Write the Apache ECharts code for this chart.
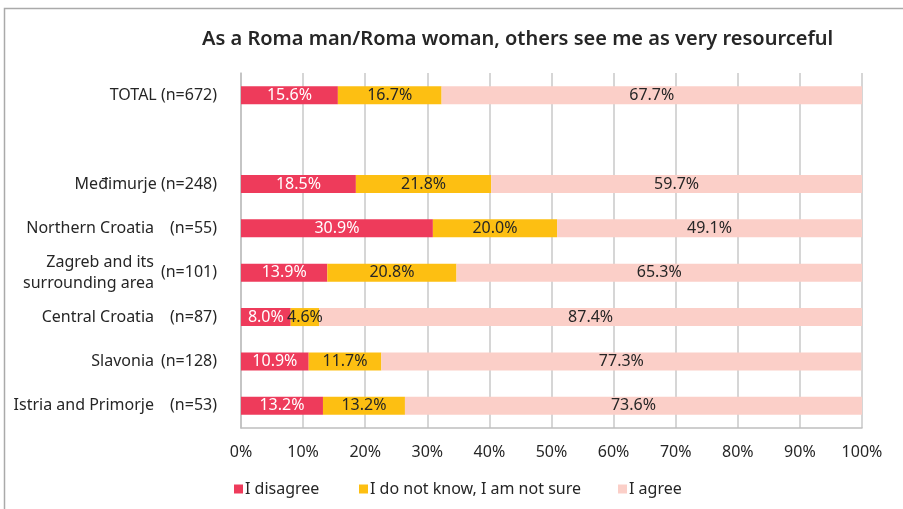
<!DOCTYPE html>
<html>
<head>
<meta charset="utf-8">
<script src="https://cdn.jsdelivr.net/npm/echarts@6/dist/echarts.min.js"></script>
<style>
  html, body { margin: 0; padding: 0; background: #fff; }
  #main { width: 903px; height: 509px; }
</style>
</head>
<body>
<div id="main"></div>
<script>
var chartDom = document.getElementById('main');
var myChart = echarts.init(chartDom);
var option;

// rows, top to bottom (the empty one is the gap under TOTAL)
var regionNames = ['', '', '', 'Northern Croatia', 'Zagreb and its\nsurrounding area', 'Central Croatia', 'Slavonia', 'Istria and Primorje'];
var sampleLabels = ['TOTAL (n=672)', '', 'Međimurje (n=248)', '(n=55)', '(n=101)', '(n=87)', '(n=128)', '(n=53)'];

var disagree = [15.6, null, 18.5, 30.9, 13.9, 8.0, 10.9, 13.2];
var notSure = [16.7, null, 21.8, 20.0, 20.8, 4.6, 11.7, 13.2];
var agree = [67.7, null, 59.7, 49.1, 65.3, 87.4, 77.3, 73.6];

var seriesNames = ['I disagree', 'I do not know, I am not sure', 'I agree'];
var colors = ['#EE3B5B', '#FDBF12', '#FBCFC8'];
var labelColors = ['#ffffff', '#262626', '#262626'];
var legendLeft = [229, 354, 613];

var font = 'Noto Sans';

var seriesList = [];
[disagree, notSure, agree].forEach(function (vals, i) {
    seriesList.push({
        name: seriesNames[i],
        type: 'bar',
        stack: 'total',
        barWidth: 18,
        data: vals,
        itemStyle: { color: colors[i] },
        label: {
            show: true,
            position: 'inside',
            color: labelColors[i],
            fontFamily: font,
            fontSize: 16,
            formatter: function (p) {
                return p.value == null ? '' : p.value.toFixed(1) + '%';
            }
        }
    });
});

// one legend per item so each sits where it does in the source
var legends = seriesNames.map(function (name, i) {
    return {
        data: [name],
        bottom: 7,
        left: legendLeft[i],
        itemWidth: 9,
        itemHeight: 9,
        icon: 'rect',
        textStyle: { fontFamily: font, fontSize: 16, color: '#262626', padding: [0, 0, 0, -3] }
    };
});

option = {
    animation: false,
    title: {
        text: 'As a Roma man/Roma woman, others see me as very resourceful',
        left: 197,
        top: 24,
        textStyle: { fontFamily: font, fontSize: 20, fontWeight: 600, color: '#262626' }
    },
    graphic: [{
        type: 'rect',
        shape: { x: 4.5, y: 8.5, width: 920, height: 520 },
        style: { fill: 'none', stroke: '#aaaaaa', lineWidth: 1.5 },
        silent: true
    }],
    legend: legends,
    grid: {
        left: 241,
        right: 41,
        top: 73,
        bottom: 81,
        containLabel: false
    },
    xAxis: {
        type: 'value',
        min: 0,
        max: 100,
        interval: 10,
        axisLabel: {
            formatter: '{value}%',
            fontFamily: font,
            fontSize: 16,
            color: '#262626',
            margin: 16
        },
        axisLine: { show: true, lineStyle: { color: '#bfbfbf', width: 1.5 } },
        axisTick: { show: false },
        splitLine: { show: true, lineStyle: { color: '#c8c8c8', width: 1.5 } }
    },
    yAxis: [{
        type: 'category',
        inverse: true,
        data: sampleLabels,
        axisLine: { show: true, lineStyle: { color: '#bfbfbf', width: 1.5 } },
        axisTick: { show: false },
        axisLabel: { fontFamily: font, fontSize: 16, color: '#262626', margin: 24 }
    }, {
        type: 'category',
        position: 'left',
        inverse: true,
        data: regionNames,
        axisLine: { show: false },
        axisTick: { show: false },
        axisLabel: { fontFamily: font, fontSize: 16, color: '#262626', margin: 87, lineHeight: 21 }
    }],
    series: seriesList
};

option && myChart.setOption(option);
</script>
</body>
</html>
